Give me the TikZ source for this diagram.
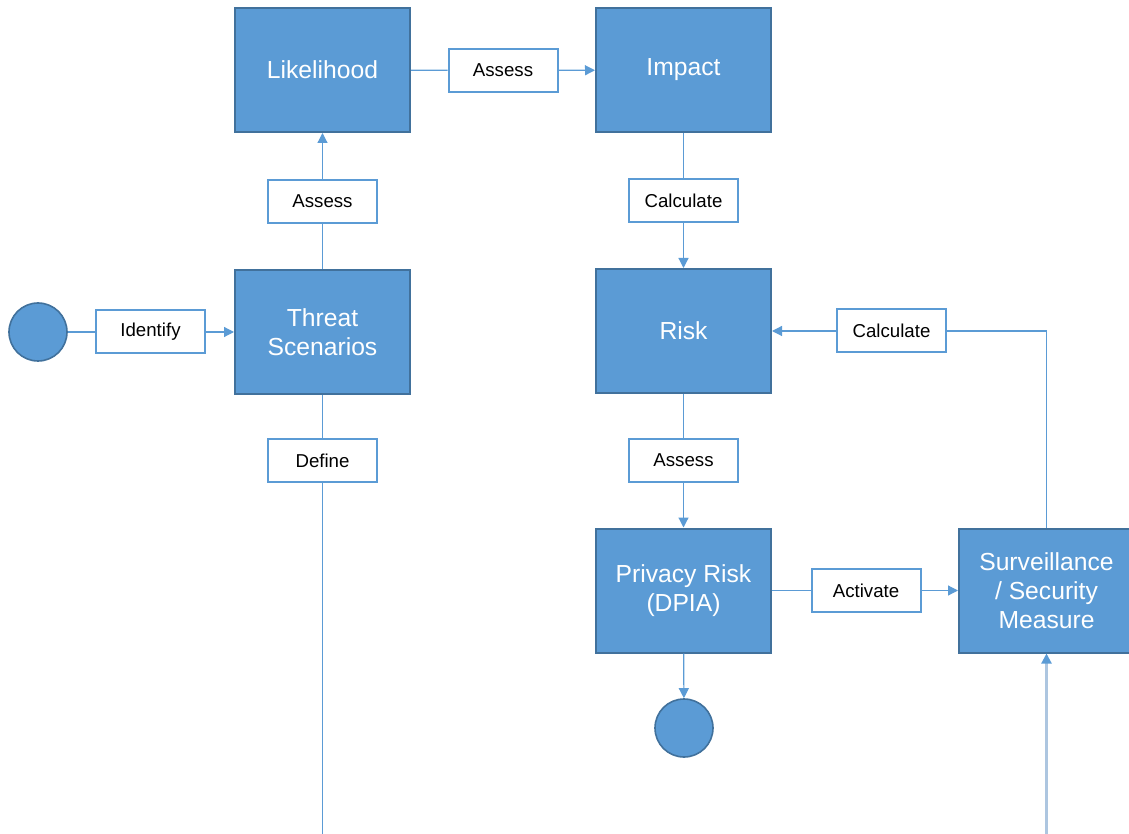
\documentclass[tikz,border=0pt]{standalone}
\usepackage{fontspec}
\setmainfont{Liberation Sans}
\usetikzlibrary{arrows.meta}
\definecolor{cbox}{HTML}{5B9BD5}
\definecolor{cedge}{HTML}{41719C}
\definecolor{cgrey}{HTML}{ADC6E0}
\tikzset{>={Triangle[length=7.5pt,width=7.5pt]}}
\tikzset{
  task/.style={draw=cedge, line width=1.5pt, fill=cbox, text=white, align=center,
    minimum width=131.25pt, minimum height=93pt, inner sep=0pt,
    font=\fontsize{18.5}{21.75}\selectfont},
  lbl/.style={draw=cbox, line width=1.5pt, fill=white, inner sep=0pt,
    minimum width=81.75pt, minimum height=32.25pt,
    font=\fontsize{14}{16}\selectfont},
  evt/.style={circle, draw=cedge, line width=1.2pt, fill=cbox, minimum size=43.5pt, inner sep=0pt},
  flow/.style={draw=cbox, line width=0.9pt},
}

\begin{document}
\begin{tikzpicture}[x=0.75pt, y=-0.75pt]
    \useasboundingbox (0,0) rectangle (1129,834);
    \clip (0,0) rectangle (1129,834);
    % tasks
    \node[task] (likely) at (322.5,70) {Likelihood};
    \node[task] (impact) at (683.5,70) {Impact};
    \node[task] (threat) at (322.5,332) {Threat\\Scenarios};
    \node[task] (risk) at (683.5,331) {Risk};
    \node[task] (privacy) at (683.5,590.5) {Privacy Risk\\(DPIA)};
    \node[task] (surv) at (1046.5,590.5) {Surveillance\\/ Security\\Measure};
    % events
    \node[evt] (start) at (38,332) {};
    \node[evt] (stop) at (684,728) {};
    % labels
    \node[lbl] (identify) at (150.5,332) {Identify};
    \node[lbl] (assessA) at (322.5,201.5) {Assess};
    \node[lbl] (assessB) at (503,70.5) {Assess};
    \node[lbl] (calcA) at (683.5,200.5) {Calculate};
    \node[lbl] (calcB) at (891.5,331) {Calculate};
    \node[lbl] (assessC) at (683.5,460.5) {Assess};
    \node[lbl] (define) at (322.5,460.5) {Define};
    \node[lbl] (activate) at (866,590.5) {Activate};
    \coordinate (defend) at (322.5,840);
    \coordinate (survin) at (1046.5,840);
    % flows
    \draw[flow] (start) -- (identify);
    \draw[flow, ->] (identify) -- (threat);
    \draw[flow] (threat) -- (assessA);
    \draw[flow, ->] (assessA) -- (likely);
    \draw[flow] (likely) -- (assessB);
    \draw[flow, ->] (assessB) -- (impact);
    \draw[flow] (impact) -- (calcA);
    \draw[flow, ->] (calcA) -- (risk);
    \draw[flow] (risk) -- (assessC);
    \draw[flow, ->] (assessC) -- (privacy);
    \draw[flow, ->] (privacy) -- (stop);
    \draw[flow] (privacy) -- (activate);
    \draw[flow, ->] (activate) -- (surv);
    \draw[flow] (surv.north) |- (calcB.east);
    \draw[flow, ->] (calcB) -- (risk);
    \draw[flow] (threat) -- (define);
    \draw[flow] (define) -- (defend);
    \draw[cgrey, line width=1.6pt, -{Triangle[length=7.5pt,width=7.5pt,color=cbox]}] (survin) -- (surv);
\end{tikzpicture}
\end{document}
